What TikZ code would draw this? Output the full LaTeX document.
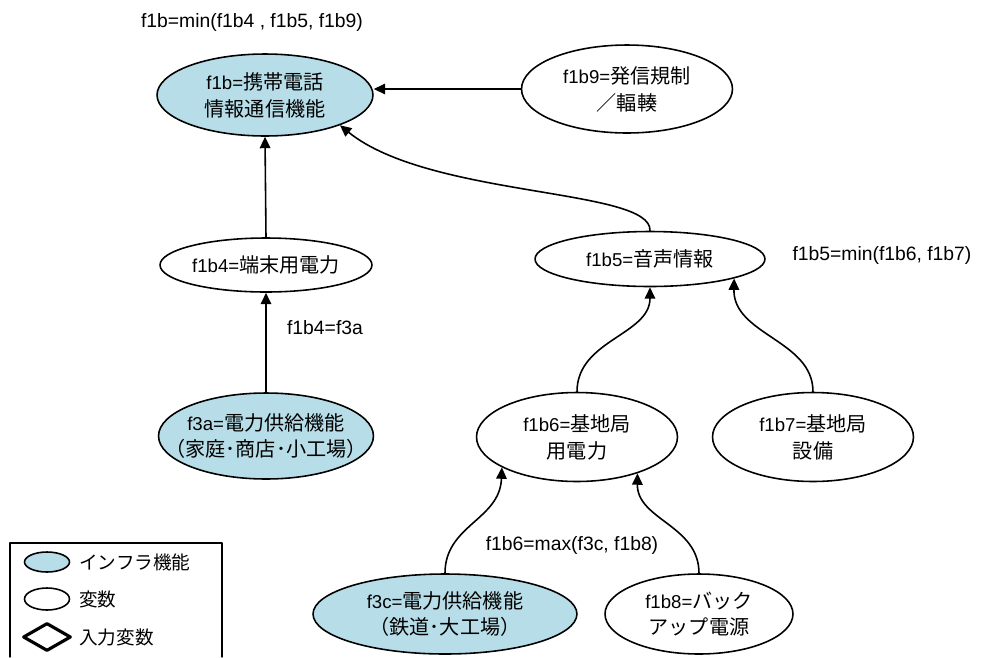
\documentclass[tikz,border=0pt]{standalone}
\usepackage{fontspec}
\setmainfont{Liberation Sans}
\newfontfamily\jpfont[Scale=1.08]{Noto Sans CJK JP}
\newcommand{\jp}[1]{{\jpfont #1}}
\usepackage{xcolor}
\usetikzlibrary{arrows.meta,shapes.geometric}
\definecolor{infrablue}{RGB}{183,222,232}
\tikzset{
  every picture/.style={line join=round, line cap=round, >={Triangle[length=6.5pt,width=6pt]}},
  infra/.style={draw, ellipse, fill=infrablue, line width=0.9pt, inner xsep=-2cm, inner ysep=-1cm, align=center,
    font=\fontsize{10.6}{15.3}\selectfont},
  var/.style={infra, fill=white},
  lbl/.style={inner sep=0pt, font=\fontsize{11}{13}\selectfont},
  link/.style={->, line width=0.9pt},
}

\begin{document}
\begin{tikzpicture}[x=0.02cm,y=0.02cm]
\useasboundingbox (0,0) rectangle (985,-657);
% top
\node[infra, minimum width=4.32cm, minimum height=1.64cm] (f1b) at (265,-95) {f1b=\jp{携帯電話}\\\jp{情報通信機能}};
\node[var, minimum width=4.22cm, minimum height=1.76cm] (f1b9) at (627,-89) {f1b9=\jp{発信規制}\\\jp{／輻輳}};
\node[lbl] (f1bmin) at (252,-22) {f1b=min(f1b4 , f1b5, f1b9)};
% left branch
\node[var, minimum width=4.24cm, minimum height=1.08cm] (f1b4) at (266,-265) {f1b4=\jp{端末用電力}};
\node[infra, minimum width=4.30cm, minimum height=1.72cm] (f3a) at (266,-436) {f3a=\jp{電力供給機能}\\\jp{（家庭･商店･小工場）}};
\node[lbl] (f1b4eq) at (325,-328) {f1b4=f3a};
% right branch
\node[var, minimum width=4.60cm, minimum height=1.10cm] (f1b5) at (650,-259) {f1b5=\jp{音声情報}};
\node[lbl] (f1b5min) at (882,-255) {f1b5=min(f1b6, f1b7)};
\node[var, minimum width=4.02cm, minimum height=1.78cm] (f1b6) at (577,-437) {f1b6=\jp{基地局}\\\jp{用電力}};
\node[var, minimum width=4.02cm, minimum height=1.78cm] (f1b7) at (813,-437) {f1b7=\jp{基地局}\\\jp{設備}};
\node[infra, minimum width=5.28cm, minimum height=1.60cm] (f3c) at (445,-614) {f3c=\jp{電力供給機能}\\\jp{（鉄道･大工場）}};
\node[var, minimum width=3.76cm, minimum height=1.60cm] (f1b8) at (699,-614) {f1b8=\jp{バック}\\\jp{アップ電源}};
\node[lbl] (f1b6max) at (572,-545) {f1b6=max(f3c, f1b8)};

\draw[link] (f1b9.west) -- (f1b9.west -| f1b.east);
\draw[link] (f1b4.north) -- (f1b.south);
\draw[link] (f3a.north) -- (f1b4.south);
\draw[link] (f1b5.north) .. controls (652,-188) and (430,-198) .. (f1b.-22);
\draw[link] (f1b6.north) .. controls (577,-340) and (650,-335) .. (f1b5.south);
\draw[link] (f1b7.north) .. controls (813,-340) and (733,-335) .. (f1b5.-13);
\draw[link] (f3c.north) .. controls (445,-525) and (500,-520) .. (f1b6.-158);
\draw[link] (f1b8.north) .. controls (699,-525) and (637,-520) .. (f1b6.-31);

% legend
\draw[line width=0.8pt] (10,-657) -- (10,-543) -- (222,-543) -- (222,-657);
\node[infra, minimum width=0.90cm, minimum height=0.40cm] (keyinfra) at (47,-562) {};
\node[var, minimum width=0.90cm, minimum height=0.44cm] (keyvar) at (47,-599) {};
\node[draw, diamond, line width=1.8pt, inner sep=0pt, minimum width=0.96cm, minimum height=0.56cm] (keyin) at (47,-637) {};
\node[lbl, anchor=west, font=\fontsize{9.8}{12}\selectfont] at (79,-562) {\jp{インフラ機能}};
\node[lbl, anchor=west, font=\fontsize{9.8}{12}\selectfont] at (79,-599) {\jp{変数}};
\node[lbl, anchor=west, font=\fontsize{9.8}{12}\selectfont] at (79,-637) {\jp{入力変数}};
\end{tikzpicture}
\end{document}
